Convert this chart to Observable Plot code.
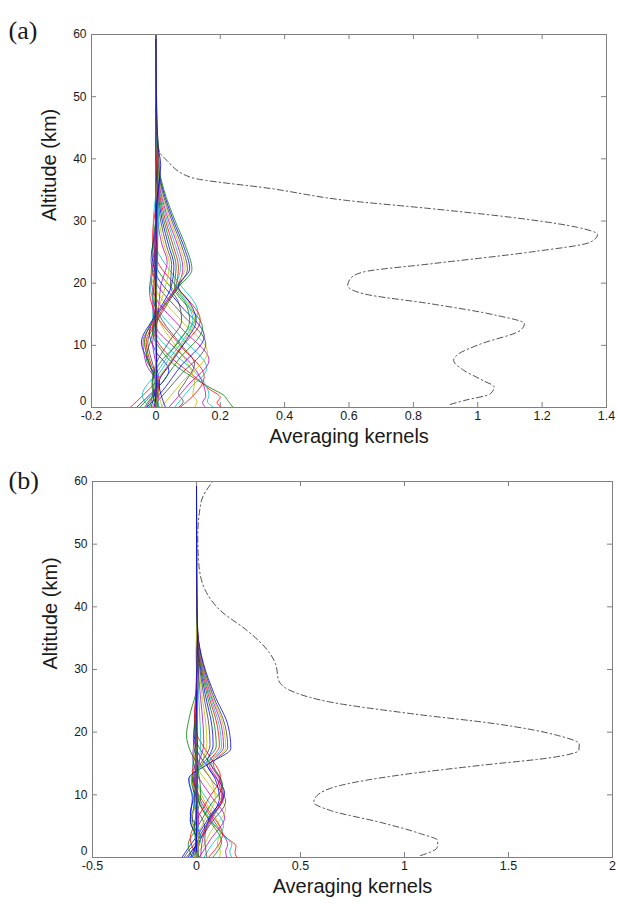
<!DOCTYPE html>
<html><head><meta charset="utf-8">
<script src="https://cdn.jsdelivr.net/npm/d3@7"></script>
<script src="https://cdn.jsdelivr.net/npm/@observablehq/plot@0.6"></script>
<style>
html,body{margin:0;padding:0;background:#fff;}
#root{position:relative;width:617px;height:904px;overflow:hidden;font-family:"Liberation Sans",Arial,sans-serif;}
#root svg{position:absolute;left:0;}
</style></head><body><div id="root"></div>
<script>
// MATLAB default line colour order
const lineColors = ["#0000ff","#008000","#ff0000","#00bfbf","#bf00bf","#bfbf00","#404040"];

// ---------- Panel (a) ----------
const xTicksA = [-0.2, 0, 0.2, 0.4, 0.6, 0.8, 1, 1.2, 1.4];
const xTickLabelsA = ["-0.2","0","0.2","0.4","0.6","0.8","1","1.2","1.4"];
const yTicks = [0, 10, 20, 30, 40, 50, 60];

// each kernel: [altitude km, value]
const kernelsA_bottom = [
 [[0,0.24],[1,0.225],[2,0.21],[3,0.175],[5,0.11],[7,0.055],[9,0.02],[12,-0.01],[16,0],[60,0]],
 [[0,0.205],[0.8,0.19],[1.6,0.2],[3,0.165],[5,0.12],[7,0.07],[9.5,0.02],[13,-0.01],[17,0],[60,0]],
 [[0,0.18],[1,0.16],[2,0.165],[4,0.15],[6,0.115],[9,0.05],[12,0],[15,-0.01],[19,0],[60,0]],
 [[0,0.155],[0.8,0.145],[1.8,0.155],[4,0.145],[7,0.11],[10,0.05],[13,0],[17,-0.01],[22,0],[60,0]],
 [[0,0.12],[1,0.128],[2,0.115],[4,0.12],[7,0.1],[10,0.06],[14,0.01],[18,-0.005],[24,0],[60,0]],
 [[0,0.07],[1,0.085],[2.2,0.07],[4,0.09],[7,0.12],[10,0.08],[14,0.02],[18,-0.01],[24,0],[60,0]],
 [[0,-0.06],[1,-0.04],[2.5,-0.01],[4,0.02],[6,0.04],[9,0],[12,-0.02],[16,0],[60,0]],
 [[0,-0.035],[1.2,-0.02],[3,0.01],[5,0],[8,-0.03],[11,-0.015],[15,0],[60,0]]
];
const kernelsA_lattice = [
 [[0,0.075],[5,0.15],[10,0.075],[15,0],[19,-0.02],[24,0],[60,0]],
 [[0,0.058],[3.2,0.108],[6.3,0.158],[11.3,0.079],[16.3,0],[20,-0.018],[25,0],[60,0]],
 [[0,0.04],[3.6,0.1],[7.6,0.165],[12.6,0.082],[17.6,0],[21,-0.015],[26,0],[60,0]],
 [[0,0.016],[4,0.08],[8.9,0.16],[13.9,0.08],[18.9,0],[22,-0.015],[27,0],[60,0]],
 [[0,-0.012],[5.2,0.076],[10.2,0.155],[15.2,0.078],[20.2,0],[24,-0.015],[29,0],[60,0]],
 [[0,-0.03],[1.5,0],[6.5,0.075],[11.5,0.15],[16.5,0.075],[21.5,0],[25,-0.012],[30,0],[60,0]],
 [[0,-0.05],[2.8,0],[7.8,0.072],[12.8,0.145],[17.8,0.072],[22.8,0],[26,-0.01],[31,0],[60,0]],
 [[0,-0.08],[4.1,0],[9.1,0.069],[14.1,0.138],[19.1,0.069],[24.1,0],[28,-0.01],[33,0],[60,0]],
 [[0,-0.02],[2,-0.042],[5.4,0],[10.4,0.065],[15.4,0.13],[20.4,0.066],[26,0],[30,-0.008],[35,0],[60,0]]
];
const kernelsA_upper = [
 [[0,0.005],[4,0.01],[7,0],[10.5,-0.01],[14,0.005],[17,0.01],[19.5,0.015],[23.5,0.035],[26,0.02],[30,0.006],[35,0.002],[40,0],[60,0]],
 [[0,-0.01],[4,0.005],[7,-0.02],[10.5,-0.035],[14,-0.01],[17,0.015],[19.5,0.03],[23.2,0.042],[26,0.026],[30,0.01],[35,0.003],[40,0],[60,0]],
 [[0,0.01],[4,-0.01],[7,0],[10.5,0.04],[14,0.08],[17,0.07],[19.5,0.045],[23,0.049],[26,0.033],[30,0.015],[35,0.004],[40,0.001],[60,0]],
 [[0,-0.015],[4,0],[7,-0.02],[10.5,-0.045],[14,-0.012],[17,0.025],[19.5,0.048],[22.8,0.056],[26,0.04],[30,0.02],[35,0.006],[40,0.001],[60,0]],
 [[0,0],[4,-0.012],[7,0.01],[10.5,0.07],[14,0.105],[17,0.09],[19.5,0.058],[22.7,0.063],[26,0.047],[30,0.025],[35,0.008],[40,0.002],[60,0]],
 [[0,-0.005],[4,0.01],[7,-0.015],[10.5,-0.03],[14,0],[17,0.035],[19.5,0.062],[22.6,0.07],[26,0.054],[30,0.03],[35,0.01],[40,0.002],[60,0]],
 [[0,0.01],[4,0],[7,0.03],[10.5,0.08],[14,0.115],[17,0.095],[19.5,0.064],[22.5,0.077],[26,0.061],[30,0.035],[35,0.012],[40,0.003],[60,0]],
 [[0,-0.03],[4,0],[7,-0.03],[10.5,-0.04],[14,-0.005],[17,0.03],[19.5,0.066],[22.4,0.084],[26,0.068],[30,0.04],[35,0.014],[40,0.003],[60,0]],
 [[0,0.02],[4,0.005],[7,0.04],[10.5,0.085],[14,0.12],[17,0.1],[19.5,0.068],[22.4,0.091],[26,0.074],[30,0.045],[35,0.016],[40,0.004],[60,0]],
 [[0,0],[4,0.005],[7,-0.01],[10.5,-0.025],[14,0.005],[17,0.04],[19.5,0.07],[22.3,0.098],[26,0.08],[30,0.05],[35,0.019],[40,0.004],[60,0]],
 [[0,0.03],[4,0.01],[7,0.045],[10.5,0.09],[14,0.125],[17,0.104],[19.5,0.07],[22.3,0.105],[26,0.086],[30,0.055],[35,0.022],[40,0.005],[60,0]],
 [[0,-0.02],[4,-0.005],[7,-0.02],[10.5,-0.035],[14,-0.01],[17,0.035],[19.5,0.072],[22.2,0.112],[26,0.092],[30,0.06],[35,0.025],[40,0.006],[60,0]]
];
const kernelsA_top = [
 [[0,0],[10,0.002],[20,-0.002],[28,0.003],[34,0.006],[38,0.004],[42,0.002],[47,0],[60,0]],
 [[0,0.001],[12,-0.002],[22,0.002],[30,0.008],[36,0.01],[40,0.005],[45,0.001],[60,0]],
 [[0,-0.002],[8,0.002],[18,0],[26,-0.004],[32,0.004],[38,0.012],[42,0.006],[48,0],[60,0]],
 [[0,0.002],[10,0],[20,0.003],[26,0.006],[33,0.002],[40,0.01],[44,0.003],[60,0]],
 [[0,0],[14,0.003],[24,-0.003],[30,0],[36,0.005],[42,0.008],[46,0.002],[60,0]],
 [[0,-0.003],[6,0.003],[16,-0.002],[25,0.004],[32,0.002],[39,0.015],[43,0.004],[60,0]]
];
// sum of kernel rows (dash-dot), [altitude, value]
const sumA = [[0.5,0.915],[1.1,0.956],[2.2,1.039],[3.3,1.051],[4.3,1.018],[6.0,0.956],[7.6,0.925],[8.6,0.94],[10.2,1.008],[12.4,1.132],[13.5,1.145],[14.8,1.06],[16.7,0.852],[18.3,0.645],[19.6,0.596],[20.7,0.604],[21.8,0.645],[23.1,0.852],[25.0,1.163],[26.6,1.35],[27.8,1.372],[29.0,1.308],[30.2,1.163],[32.0,0.852],[33.3,0.594],[35.2,0.36],[37.0,0.11],[39.7,0.035],[41.3,0.01],[44.6,0.003],[48,0]];

// ---------- Panel (b) ----------
const xTicksB = [-0.5, 0, 0.5, 1, 1.5, 2];
const xTickLabelsB = ["-0.5","0","0.5","1","1.5","2"];

const kernelsB_bottom = [
 [[0,0.195],[0.8,0.185],[1.8,0.19],[3,0.15],[5,0.09],[7,0.04],[9,0.01],[12,-0.01],[16,0],[60,0]],
 [[0,0.17],[1,0.16],[2,0.17],[3.5,0.13],[5.5,0.08],[8,0.03],[11,-0.01],[15,0],[60,0]],
 [[0,0.145],[1,0.14],[2,0.15],[4,0.12],[6,0.08],[9,0.02],[12,-0.01],[16,0],[60,0]],
 [[0,0.11],[1,0.115],[2.2,0.1],[4,0.115],[6.5,0.09],[9,0.04],[13,-0.005],[18,0],[60,0]],
 [[0,-0.06],[1,-0.04],[2.5,0],[4.5,0.04],[6,0.03],[8.5,-0.01],[12,0],[60,0]],
 [[0,-0.04],[1.2,-0.02],[3,0.02],[5,0],[7,-0.03],[10,-0.01],[14,0],[60,0]]
];
const kernelsB_lattice = [
 [[0,0.077],[2.5,0.12],[6,0.06],[9.5,0],[12.5,-0.02],[16.5,0],[60,0]],
 [[0,0.057],[3.8,0.125],[7.3,0.062],[10.8,0],[13.8,-0.02],[17.8,0],[60,0]],
 [[0,0.035],[1.6,0.065],[5.1,0.13],[8.6,0.065],[12.1,0],[15.1,-0.018],[19.1,0],[60,0]],
 [[0,0.012],[2.9,0.068],[6.4,0.135],[9.9,0.068],[13.4,0],[16.4,-0.018],[20.4,0],[60,0]],
 [[0,-0.03],[0.7,0],[4.2,0.07],[7.7,0.14],[11.2,0.07],[14.7,0],[17.7,-0.015],[21.7,0],[60,0]],
 [[0,-0.05],[2,0],[5.5,0.07],[9,0.14],[12.5,0.07],[16,0],[19,-0.015],[23,0],[60,0]],
 [[0,-0.07],[1.5,-0.04],[3.3,0],[6.8,0.068],[10.3,0.135],[13.8,0.068],[17.3,0],[20.3,-0.012],[24.3,0],[60,0]],
 [[0,-0.02],[2,-0.04],[4.6,0],[8.1,0.062],[11.6,0.125],[15.1,0.062],[18.6,0],[22,-0.01],[26,0],[60,0]],
 [[0,0.01],[3,-0.03],[5.9,0],[9.4,0.058],[12.9,0.115],[16.4,0.058],[19.9,0],[23,-0.01],[27,0],[60,0]]
];
const kernelsB_upper = [
 [[0,0.005],[3,0],[6,0.005],[9.5,0],[12.5,0.005],[15,0.012],[18.5,0.02],[21,0.018],[26,0.01],[31,0.004],[36,0],[42,0],[60,0]],
 [[0,-0.01],[3,0],[6,0.01],[9.5,0],[12.5,-0.015],[15,0.01],[18.3,0.035],[21,0.032],[26,0.018],[31,0.007],[36,0.001],[42,0],[60,0]],
 [[0,-0.01],[3,0],[6,0.04],[9.5,0.09],[12.5,0.07],[15,0.03],[18.2,0.05],[21,0.046],[26,0.026],[31,0.01],[36,0.001],[42,0],[60,0]],
 [[0,0],[3,0.01],[6,-0.02],[9.5,-0.01],[12.5,-0.025],[15,0.02],[18,0.065],[21,0.06],[26,0.034],[31,0.013],[36,0.002],[42,0],[60,0]],
 [[0,-0.02],[3,0.01],[6,0.06],[9.5,0.11],[12.5,0.09],[15,0.05],[18,0.08],[21,0.074],[26,0.042],[31,0.016],[36,0.002],[42,0],[60,0]],
 [[0,0.01],[3,0],[6,-0.03],[9.5,0.01],[12.5,-0.02],[15,0.03],[17.8,0.095],[21,0.087],[26,0.05],[31,0.019],[36,0.003],[42,0],[60,0]],
 [[0,0],[3,0.02],[6,0.065],[9.5,0.12],[12.5,0.1],[15,0.06],[17.8,0.11],[21,0.1],[26,0.057],[31,0.022],[36,0.003],[42,0],[60,0]],
 [[0,-0.02],[3,0.02],[6,0],[9.5,-0.015],[12.5,-0.035],[15,0.04],[17.6,0.12],[21,0.11],[26,0.062],[31,0.024],[36,0.004],[42,0],[60,0]],
 [[0,0.02],[3,0.03],[6,0.07],[9.5,0.125],[12.5,0.11],[15,0.07],[17.6,0.13],[21,0.12],[26,0.068],[31,0.026],[36,0.004],[42,0],[60,0]],
 [[0,0],[3,0.01],[6,-0.025],[9.5,0.005],[12.5,-0.025],[15,0.05],[17.5,0.14],[21,0.129],[26,0.073],[31,0.028],[36,0.005],[42,0],[60,0]],
 [[0,0.05],[3,0.04],[6,0.06],[9.5,0.13],[12.5,0.115],[15,0.08],[17.5,0.15],[21,0.138],[26,0.078],[31,0.03],[36,0.005],[42,0],[60,0]],
 [[0,-0.03],[3,0],[6,-0.03],[9.5,-0.02],[12.5,-0.038],[15,0.06],[17.4,0.165],[21,0.152],[26,0.086],[31,0.033],[36,0.006],[42,0],[60,0]],
 [[0,0.01],[5,-0.01],[10,0.02],[15,0],[17,-0.03],[19.5,-0.048],[23,-0.03],[27,0],[33,0.005],[40,0],[60,0]]
];
const kernelsB_top = [
 [[0,0],[15,0.003],[25,-0.003],[32,0.004],[38,0.003],[44,0.001],[60,0]],
 [[0,0.002],[10,-0.002],[22,0.004],[30,0.006],[36,0.002],[42,0.003],[60,0]],
 [[0,-0.002],[12,0.002],[20,-0.004],[28,0.003],[34,0.008],[40,0.002],[60,0]],
 [[0,0.001],[8,0.003],[18,0],[26,0.005],[33,-0.003],[39,0.004],[46,0],[60,0]],
 [[0,0],[14,-0.003],[24,0.002],[31,0.01],[37,0.004],[43,0],[60,0]],
 [[0,-0.001],[9,0.002],[19,0.004],[27,-0.002],[35,0.005],[45,0.001],[60,0]]
];
const sumB = [[0.3,1.077],[1.6,1.157],[2.7,1.16],[3.8,1.077],[5.6,0.885],[7.5,0.644],[8.8,0.564],[9.9,0.58],[11.5,0.692],[13.1,0.965],[14.7,1.365],[16.0,1.718],[17.1,1.838],[18.1,1.84],[19.5,1.734],[21.3,1.446],[22.9,1.045],[24.8,0.644],[26.4,0.468],[28.2,0.396],[30.9,0.38],[32.8,0.348],[36.2,0.244],[39.4,0.115],[42.6,0.043],[46.9,0.011],[51.1,0.006],[56.7,0.022],[60,0.078]];

function makePanel(cfg) {
  const kernels = [].concat(...cfg.groups);
  const rows = [];
  kernels.forEach((nodes, k) => nodes.forEach(([alt, v]) => rows.push({k, alt, v, color: lineColors[(k + cfg.colorOffset) % 7]})));
  const W = 617;
  const innerH = cfg.height - cfg.mt - cfg.mb;
  const innerW = W - cfg.ml - cfg.mr;
  const gray = "#808080";
  const yUpper = yTicks.filter(t => t !== 0);
  const yBottom = yTicks.filter(t => t === 0);
  return Plot.plot({
    width: W, height: cfg.height,
    marginTop: cfg.mt, marginBottom: cfg.mb, marginLeft: cfg.ml, marginRight: cfg.mr,
    style: {fontFamily: "'Liberation Sans', Arial, sans-serif", fontSize: "12px", color: "#1a1a1a", background: "#fff", overflow: "visible"},
    x: {domain: cfg.xDomain, axis: null},
    y: {domain: [0, 60], axis: null},
    color: {type: "identity"},
    marks: [
      Plot.line(rows, {x: "v", y: "alt", z: "k", stroke: "color", strokeWidth: 0.8, curve: "monotone-y", clip: true}),
      Plot.line(cfg.sum, {x: d => d[1], y: d => d[0], stroke: "#3c3c3c", strokeWidth: 0.9, strokeDasharray: "6,3,1.5,3", curve: "monotone-y", clip: true}),
      Plot.frame({stroke: gray, strokeWidth: 1}),
      Plot.tickX(cfg.xTicks, {x: d => d, stroke: gray, insetTop: innerH - 5}),
      Plot.tickX(cfg.xTicks, {x: d => d, stroke: gray, insetBottom: innerH - 5}),
      Plot.tickY(yTicks, {y: d => d, stroke: gray, insetRight: innerW - 5}),
      Plot.tickY(yTicks, {y: d => d, stroke: gray, insetLeft: innerW - 5}),
      Plot.text(cfg.xTicks, {x: d => d, text: (d, i) => cfg.xTickLabels[i], frameAnchor: "bottom", dy: 12.5, fontSize: 12.5, fill: "#1a1a1a"}),
      Plot.text(yUpper, {y: d => d, text: d => String(d), frameAnchor: "left", dx: -5, textAnchor: "end", fontSize: 12, fill: "#1a1a1a"}),
      Plot.text(yBottom, {y: d => d, text: d => String(d), frameAnchor: "left", dx: -5, dy: -6, textAnchor: "end", fontSize: 12, fill: "#1a1a1a"}),
      Plot.text(["Averaging kernels"], {text: d => d, frameAnchor: "bottom", dy: cfg.xTitleDy, fontSize: 20, fill: "#1a1a1a"}),
      Plot.text(["Altitude (km)"], {text: d => d, frameAnchor: "left", dx: -42, rotate: -90, fontSize: 20, fill: "#1a1a1a"}),
      Plot.text([cfg.tag], {text: d => d, frameAnchor: "top-left", dx: cfg.tagDx, dy: cfg.tagDy, textAnchor: "start", fontFamily: "'Liberation Serif', 'Times New Roman', serif", fontSize: 26, fill: "#1a1a1a"})
    ]
  });
}

const root = document.getElementById("root");
const svgA = makePanel({
  groups: [kernelsA_bottom, kernelsA_lattice, kernelsA_upper, kernelsA_top], colorOffset: 1,
  sum: sumA, xDomain: [-0.2, 1.4], xTicks: xTicksA, xTickLabels: xTickLabelsA,
  height: 450, mt: 34, mb: 43, ml: 91, mr: 11, xTitleDy: 35,
  tag: "(a)", tagDx: -83, tagDy: -14
});
svgA.style.top = "0px";
root.appendChild(svgA);
const svgB = makePanel({
  groups: [kernelsB_bottom, kernelsB_lattice, kernelsB_upper, kernelsB_top], colorOffset: 2,
  sum: sumB, xDomain: [-0.5, 2], xTicks: xTicksB, xTickLabels: xTickLabelsB,
  height: 454, mt: 31, mb: 47, ml: 92, mr: 5, xTitleDy: 35,
  tag: "(b)", tagDx: -84, tagDy: -11
});
svgB.style.top = "450px";
root.appendChild(svgB);
</script>
</body></html>
